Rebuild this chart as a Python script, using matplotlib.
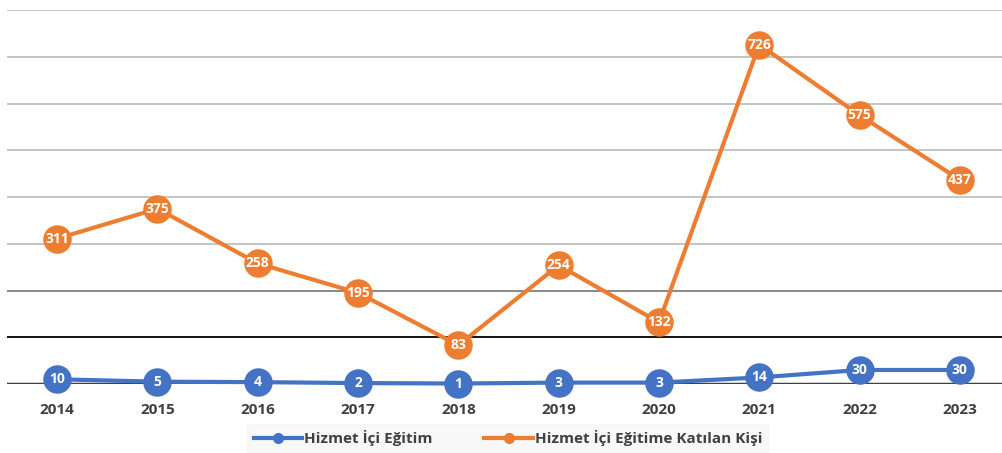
import matplotlib
matplotlib.use("Agg")
import matplotlib.pyplot as plt

years = ["2014", "2015", "2016", "2017", "2018", "2019", "2020", "2021", "2022", "2023"]
egitim = [10, 5, 4, 2, 1, 3, 3, 14, 30, 30]
katilan = [311, 375, 258, 195, 83, 254, 132, 726, 575, 437]
series_names = ["Hizmet İçi Eğitim", "Hizmet İçi Eğitime Katılan Kişi"]

BLUE = "#4472c4"
ORANGE = "#ed7d31"
TXT = "#404040"

W, H = 1003, 453
fig = plt.figure(figsize=(W / 100, H / 100), dpi=100)
ax = fig.add_axes([7 / W, 69 / H, (1010 - 7) / W, 374 / H])
ax.set_xlim(-0.5, 9.5)
ax.set_ylim(0, 800)

# gridlines
grid_colors = {100: "#000000", 200: "#808080"}
for v in range(100, 801, 100):
    ax.axhline(v, color=grid_colors.get(v, "#bfbfbf"), lw=1.3, zorder=1)
ax.axhline(0, color=TXT, lw=2.5, zorder=1)

for s in ax.spines.values():
    s.set_visible(False)
ax.set_yticks([])
x = list(range(len(years)))
ax.set_xticks(x)
ax.set_xticklabels(years, fontsize=11, fontweight="bold", color=TXT, family="Open Sans")
ax.tick_params(axis="x", length=0, pad=14)

l1, = ax.plot(x, egitim, color=BLUE, lw=3, marker="o", ms=19.5, mfc=BLUE, mec=BLUE, zorder=3,
              clip_on=False)
l2, = ax.plot(x, katilan, color=ORANGE, lw=3, marker="o", ms=19.5, mfc=ORANGE, mec=ORANGE, zorder=3,
              clip_on=False)

for xi, v in zip(x, egitim):
    ax.text(xi, v, str(v), ha="center", va="center", color="white", fontsize=10,
            fontweight="bold", family="Open Sans", zorder=4)
for xi, v in zip(x, katilan):
    ax.text(xi, v, str(v), ha="center", va="center", color="white", fontsize=10,
            fontweight="bold", family="Open Sans", zorder=4)

h1 = plt.Line2D([], [], color=BLUE, lw=3, marker="o", ms=7)
h2 = plt.Line2D([], [], color=ORANGE, lw=3, marker="o", ms=7)
leg = fig.legend([h1, h2], series_names, loc="center", bbox_to_anchor=(508 / W, 1 - 438 / H),
                 ncol=2, frameon=True, fancybox=False, handlelength=3.2, handletextpad=0.1,
                 columnspacing=3.4, borderpad=0.4,
                 prop={"family": "Open Sans", "weight": "bold", "size": 11})
leg.get_frame().set_facecolor("#f7f7f7")
leg.get_frame().set_edgecolor("#f7f7f7")
for t in leg.get_texts():
    t.set_color(TXT)

fig.savefig("out.png", dpi=100)
